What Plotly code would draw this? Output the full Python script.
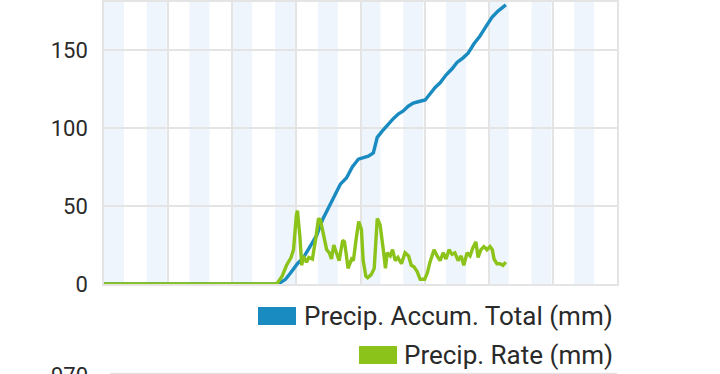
import plotly.graph_objects as go

# ---- data (hours since start, values in mm) ----
accum_hours = [0, 48, 96.9, 99.1, 101.9, 104.7, 108.6, 112, 115.9, 119.3, 122.6, 126, 129.3, 132.7,
               136.1, 139.4, 142.8, 145.6, 148.4, 151.2, 153.4, 156.2, 159, 162.4, 165.2, 168,
               170.8, 173.6, 176.9, 180.3, 183.1, 185.9, 188.7, 192, 195.4, 198.2, 201.6, 204.4,
               207.7, 211.1, 214.4, 217.8, 221.2, 225.6]
accum_total = [0, 0, 0, 1, 3, 7, 13, 17, 24, 31, 41, 49, 56, 64,
               68, 75, 80, 81, 82, 84, 94, 98, 102, 106, 109, 111,
               114, 116, 117, 118, 122, 126, 129, 134, 138, 142, 145, 148,
               154, 159, 165, 171, 175, 179]

rate_hours = [0, 48, 97, 100, 102.5, 105, 106.4, 108, 108.6, 110, 111, 112, 113.7, 115, 117, 119,
              120.4, 121.5, 123, 125, 126.5, 127.7, 129, 130.5, 132, 134, 135, 136, 137, 139, 140,
              141.7, 143, 144.5, 145.5, 147, 148, 150, 151.7, 153.4, 155, 156.8, 158, 159, 160.7,
              162, 163.5, 165, 167, 169, 171, 172.5, 174, 175.8, 177.5, 180, 181.5, 183, 185.3,
              187, 188.7, 190.4, 192, 193.7, 195.4, 197, 198.8, 200.5, 202, 203.8, 205.5, 207,
              208.8, 210, 211.6, 213.3, 215, 216.7, 218, 219, 220.6, 222.3, 224, 225.6]
rate_values = [0, 0, 0, 5, 12, 17, 22, 44, 47, 30, 12, 18, 14, 17, 16, 30,
               42, 41, 32, 22, 20, 16, 25, 20, 15, 28, 27, 19, 10, 16, 15,
               30, 40, 35, 15, 5, 4, 6, 10, 42, 38, 22, 10, 20, 18,
               22, 15, 17, 13, 20, 18, 12, 11, 8, 3, 3, 7, 14, 22,
               18, 15, 20, 16, 22, 19, 20, 15, 18, 12, 20, 18, 23,
               27, 17, 22, 24, 22, 24, 22, 16, 13, 13, 12, 14]

night_starts = [0, 24, 48, 72, 96, 120, 144, 168, 192, 216, 240, 264]
night_length = 11.2
y_ticks = [0, 50, 100, 150]

series_names = ["Precip. Accum. Total (mm)", "Precip. Rate (mm)"]
next_chart_label = "970"

BLUE = "#1a8bc0"
GREEN = "#8cc31a"
TEXT = "#2a2a2a"
GRID = "#e4e4e4"

fig = go.Figure()

fig.add_trace(go.Scatter(x=accum_hours, y=accum_total, mode="lines", name=series_names[0],
                         line=dict(color=BLUE, width=3.4), showlegend=False))
fig.add_trace(go.Scatter(x=rate_hours, y=rate_values, mode="lines", name=series_names[1],
                         line=dict(color=GREEN, width=3.4), showlegend=False))

shapes = []
for s in night_starts:
    shapes.append(dict(type="rect", xref="x", yref="paper", x0=s, x1=s + night_length,
                       y0=0, y1=1, fillcolor="#eef5fc", line=dict(width=0), layer="below"))

# manual legend (rectangular swatches, right-aligned entries)
legend_rows = [
    dict(color=BLUE, sx0=0.3002, sx1=0.3743, sy0=-0.1454, sy1=-0.0816, ty=-0.1135),
    dict(color=GREEN, sx0=0.4971, sx1=0.5712, sy0=-0.2837, sy1=-0.2199, ty=-0.2518),
]
annotations = []
for name, row in zip(series_names, legend_rows):
    shapes.append(dict(type="rect", xref="paper", yref="paper", x0=row["sx0"], x1=row["sx1"],
                       y0=row["sy0"], y1=row["sy1"], fillcolor=row["color"], line=dict(width=0)))
    annotations.append(dict(text=name, xref="paper", yref="paper", x=0.9961, y=row["ty"],
                            xanchor="right", yanchor="middle", showarrow=False,
                            font=dict(family="Roboto", size=26, color=TEXT)))

# top edge of the next chart, cut off by the window edge
annotations.append(dict(text=next_chart_label, xref="paper", yref="paper", x=-0.0273, y=-0.3245,
                        xanchor="right", yanchor="middle", showarrow=False,
                        font=dict(family="Roboto", size=22, color=TEXT)))
shapes.append(dict(type="line", xref="paper", yref="paper", x0=0.012, x1=1.0,
                   y0=-0.3175, y1=-0.3175, line=dict(color=GRID, width=1.5)))

fig.update_layout(
    width=720, height=374,
    margin=dict(l=104, r=103, t=2, b=90, autoexpand=False),
    paper_bgcolor="white", plot_bgcolor="white",
    showlegend=False,
    shapes=shapes, annotations=annotations,
    xaxis=dict(range=[0, 288], dtick=36, tick0=0, showticklabels=False, automargin=False,
               showgrid=True, gridcolor=GRID, gridwidth=1.5, zeroline=False,
               showline=True, linecolor=GRID, linewidth=1.5, mirror=True),
    yaxis=dict(range=[0, 180.8], tickvals=y_ticks, showgrid=True, gridcolor=GRID,
               gridwidth=1.5, zeroline=False, showline=True, linecolor=GRID,
               linewidth=1.5, mirror=True, ticklabelstandoff=10, automargin=False,
               tickfont=dict(family="Roboto", size=22, color=TEXT)),
)

fig.write_html("out.html", config={"displayModeBar": False},
               post_script="document.body.style.margin='0';document.body.style.overflow='hidden';")
